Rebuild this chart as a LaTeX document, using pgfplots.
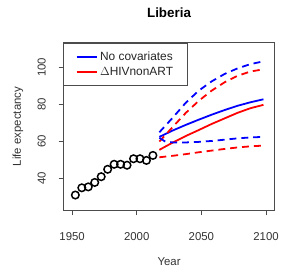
\documentclass[border=0pt]{standalone}
\usepackage{pgfplots}
\pgfplotsset{compat=1.18}
\usepackage{fontspec}
\setmainfont{Liberation Sans}
\usetikzlibrary{calc}
\begin{document}
\begin{tikzpicture}
\begin{axis}[
  name=ax,
  scale only axis,
  width=213pt, height=169pt,
  xmin=1943.3, xmax=2106.7,
  ymin=22.9, ymax=113.4,
  axis line style={black!70, line width=0.8pt},
  xtick={1950,2000,2050,2100},
  ytick={40,60,80,100},
  tick style={black!70, line width=0.8pt},
  tick align=outside,
  major tick length=5pt,
  xtick pos=left, ytick pos=left,
  /pgf/number format/assume math mode=true,
  /pgf/number format/1000 sep={},
  tick label style={font=\fontsize{11.5}{13}\selectfont, text=black!80},
  xticklabel style={anchor=center, yshift=-22pt},
  yticklabel style={anchor=center, xshift=-17pt, rotate=90},
  title={\textbf{Liberia}},
  title style={at={(axis description cs:0.5,1)}, anchor=center, yshift=24pt, font=\fontsize{13.5}{15}\selectfont},
  xlabel={Year},
  xlabel style={at={(axis description cs:0.5,0)}, anchor=center, yshift=-52pt, font=\fontsize{11.5}{13}\selectfont, text=black!80},
  ylabel={Life expectancy},
  ylabel style={at={(axis description cs:-0.216,0.5)}, anchor=center, font=\fontsize{11.5}{13}\selectfont, text=black!80},
  legend style={at={(0,1)}, anchor=north west, draw=black!70, line width=0.8pt,
    font=\fontsize{12}{14}\selectfont, text=black!85, inner xsep=12pt, inner ysep=7pt, row sep=1pt,
    legend cell align=left, /tikz/every even column/.append style={column sep=6pt}},
  legend image code/.code={\draw[#1, line width=1.5pt] (0pt,0pt) -- (21pt,0pt);},
  clip=false,
]
\addplot[blue, line width=1.8pt] coordinates {(2017.5,62.5)(2028,66)(2038,69)(2048,71.8)(2058,74.5)(2068,77)(2078,79.3)(2088,81.2)(2098,82.8)};
\addlegendentry{No covariates}
\addplot[red, line width=1.8pt] coordinates {(2017.5,55.5)(2028,59.5)(2038,63)(2048,66.2)(2058,69.5)(2068,72.5)(2078,75.5)(2088,78)(2098,79.8)};
\addlegendentry{$\Delta$HIVnonART}
\addplot[blue, line width=1.8pt, dash pattern=on 7pt off 5pt, forget plot] coordinates {(2017.5,65)(2028,73)(2038,81)(2048,87.5)(2058,92.5)(2068,96.5)(2078,99.5)(2088,101.8)(2098,103.3)};
\addplot[red, line width=1.8pt, dash pattern=on 7pt off 5pt, forget plot] coordinates {(2017.5,60)(2028,68)(2038,75.5)(2048,82)(2058,87.5)(2068,92)(2078,95.5)(2088,97.8)(2098,99)};
\addplot[blue, line width=1.8pt, dash pattern=on 7pt off 5pt, forget plot] coordinates {(2017.5,62)(2022,60)(2028,59.5)(2038,59.5)(2048,59.8)(2058,60.3)(2068,61)(2078,61.7)(2088,62.2)(2098,62.5)};
\addplot[red, line width=1.8pt, dash pattern=on 7pt off 5pt, forget plot] coordinates {(2017.5,51.5)(2028,52.3)(2038,53.2)(2048,54.2)(2058,55.1)(2068,56)(2078,56.8)(2088,57.4)(2098,57.8)};
\addplot[only marks, mark=o, mark size=3.8pt, mark options={line width=1.5pt, black}, forget plot] coordinates {
(1952.5,31.1)(1957.5,35.0)(1962.5,35.5)(1967.5,37.9)(1972.5,41.0)(1977.5,45.0)(1982.5,47.7)(1987.5,47.7)(1992.5,47.2)(1997.5,50.7)(2002.5,50.7)(2007.5,49.8)(2012.5,52.5)};
\end{axis}
\path[use as bounding box] ($(ax.south west)+(-64pt,-63pt)$) rectangle ($(ax.north east)+(5pt,43pt)$);
\end{tikzpicture}
\end{document}
